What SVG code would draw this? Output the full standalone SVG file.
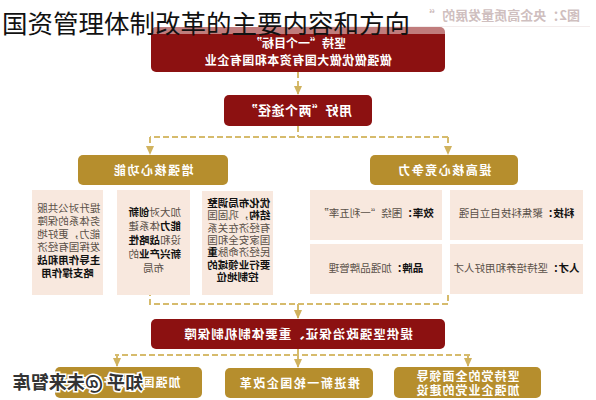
<svg xmlns="http://www.w3.org/2000/svg" width="596" height="400" viewBox="0 0 596 400">
<style>
.red{fill:#8c1111}
.gold{fill:#b68e2d}
.peach{fill:#f8e8de}
.t{font-family:"Noto Sans CJK SC","Noto Sans CJK JP",sans-serif}
.wt{fill:#fff;font-weight:700;text-anchor:middle}
.body{fill:#5a5048;font-size:10.5px;text-anchor:middle}
.b{font-weight:700;fill:#111}
.conn{stroke:#d6bb6c;stroke-width:2;stroke-dasharray:6 3;fill:none}
</style>
<defs>
<marker id="arr" markerUnits="userSpaceOnUse" markerWidth="9" markerHeight="8" refX="8" refY="4" orient="auto">
<path d="M0,0 L9,4 L0,8 z" fill="#d0b25e"/>
</marker>
</defs>
<rect width="596" height="400" fill="#fff"/>
<g id="diagram" transform="matrix(-1 0 0 1 596 0)">
<g id="caption">
<line x1="6" y1="26.5" x2="300" y2="26.5" stroke="#eadcdc" stroke-width="1"/>
<text class="t" x="16" y="20" font-size="13" font-weight="700" fill="#a88a8a">图2：央企高质量发展的“</text>
</g>
<g id="connectors">
<line class="conn" x1="298" y1="72" x2="298" y2="94" marker-end="url(#arr)"/>
<polyline class="conn" points="298,126 298,137"/>
<polyline class="conn" points="148,137 446,137"/>
<line class="conn" x1="148" y1="137" x2="148" y2="154" marker-end="url(#arr)"/>
<line class="conn" x1="446" y1="137" x2="446" y2="154" marker-end="url(#arr)"/>
<polyline class="conn" points="148,295 148,304 446,304 446,295"/>
<line class="conn" x1="298" y1="304" x2="298" y2="318" marker-end="url(#arr)"/>
<polyline class="conn" points="298,349 298,355"/>
<polyline class="conn" points="126,355 481,355"/>
<line class="conn" x1="128" y1="355" x2="128" y2="366" marker-end="url(#arr)"/>
<line class="conn" x1="298" y1="355" x2="298" y2="367" marker-end="url(#arr)"/>
<line class="conn" x1="479" y1="355" x2="479" y2="366" marker-end="url(#arr)"/>
</g>
<g id="goal">
<rect class="red" x="151" y="27" width="294" height="45" rx="5"/>
<text class="t wt" x="298" y="47.5" font-size="12">坚持“一个目标”</text>
<text class="t wt" x="298" y="64.5" font-size="12" letter-spacing="0.5">做强做优做大国有资本和国有企业</text>
</g>
<g id="paths">
<rect class="red" x="224" y="95" width="148" height="31" rx="5"/>
<text class="t wt" x="298" y="115" font-size="13" letter-spacing="0.5">用好“两个途径”</text>
</g>
<g id="compete">
<rect class="gold" x="78" y="155" width="148" height="30" rx="5"/>
<text class="t wt" x="152" y="174.5" font-size="12" letter-spacing="1.5">提高核心竞争力</text>
</g>
<g id="function">
<rect class="gold" x="368" y="155" width="150" height="30" rx="5"/>
<text class="t wt" x="443" y="174.5" font-size="12" letter-spacing="1.5">增强核心功能</text>
</g>
<g id="tech">
<rect class="peach" x="13" y="190" width="133" height="50"/>
<text class="t body" x="79.5" y="217"><tspan class="b">科技：</tspan>聚焦科技自立自强</text>
</g>
<g id="efficiency">
<rect class="peach" x="154" y="190" width="132" height="50"/>
<text class="t body" x="220" y="217"><tspan class="b">效率：</tspan>围绕“一利五率”</text>
</g>
<g id="talent">
<rect class="peach" x="13" y="244" width="133" height="50"/>
<text class="t body" x="79.5" y="272"><tspan class="b">人才：</tspan>坚持培养和用好人才</text>
</g>
<g id="brand">
<rect class="peach" x="154" y="244" width="132" height="50"/>
<text class="t body" x="220" y="272"><tspan class="b">品牌：</tspan>加强品牌管理</text>
</g>
<g id="layout">
<rect class="peach" x="323" y="191" width="71" height="104"/>
<text class="t body">
<tspan x="358.5" y="207" class="b">优化布局调整</tspan>
<tspan x="358.5" y="219.3"><tspan class="b">结构</tspan>，巩固国</tspan>
<tspan x="358.5" y="231.7">有经济在关系</tspan>
<tspan x="358.5" y="244">国家安全和国</tspan>
<tspan x="358.5" y="256.3">民经济命脉<tspan class="b">重</tspan></tspan>
<tspan x="358.5" y="268.7" class="b">要行业领域的</tspan>
<tspan x="358.5" y="281" class="b">控制地位</tspan>
</text>
</g>
<g id="innovation">
<rect class="peach" x="406" y="190" width="73" height="105"/>
<text class="t body">
<tspan x="442.5" y="216">加大对<tspan class="b">创新</tspan></tspan>
<tspan x="442.5" y="230"><tspan class="b">能力</tspan>体系建</tspan>
<tspan x="442.5" y="244">设和<tspan class="b">战略性</tspan></tspan>
<tspan x="442.5" y="258"><tspan class="b">新兴产业</tspan>的</tspan>
<tspan x="442.5" y="272">布局</tspan>
</text>
</g>
<g id="service">
<rect class="peach" x="493" y="190" width="71" height="105"/>
<text class="t body">
<tspan x="528.5" y="212">提升对公共服</tspan>
<tspan x="528.5" y="225">务体系的保障</tspan>
<tspan x="528.5" y="238">能力，更好地</tspan>
<tspan x="528.5" y="251">发挥国有经济</tspan>
<tspan x="528.5" y="264" class="b">主导作用和战</tspan>
<tspan x="528.5" y="277" class="b">略支撑作用</tspan>
</text>
</g>
<g id="guarantee">
<rect class="red" x="151" y="319" width="294" height="30" rx="5"/>
<text class="t wt" x="298" y="339" font-size="12.5" letter-spacing="1">提供坚强政治保证、重要体制机制保障</text>
</g>
<g id="party">
<rect class="gold" x="55" y="367" width="147" height="31" rx="5"/>
<text class="t wt" x="128.5" y="380.5" font-size="12" letter-spacing="1">坚持党的全面领导</text>
<text class="t wt" x="128.5" y="394.5" font-size="12" letter-spacing="1">加强企业党的建设</text>
</g>
<g id="reform">
<rect class="gold" x="223" y="368" width="148" height="30" rx="5"/>
<text class="t wt" x="297" y="387.5" font-size="12" letter-spacing="1.5">推进新一轮国企改革</text>
</g>
<g id="supervision">
<rect class="gold" x="394" y="367" width="147" height="31" rx="5"/>
<text class="t wt" x="467.5" y="386.5" font-size="12" letter-spacing="1">加强国有资产监管</text>
</g>
<g id="watermark">
<text class="t" x="453" y="389" font-size="18" font-weight="700" fill="#333" stroke="#fff" stroke-width="3" paint-order="stroke">知乎 @未来智库</text>
</g>
</g>
<rect x="0" y="0" width="596" height="34" fill="#fff" opacity="0.45"/>
<g id="title">
<text class="t" x="2" y="33" font-size="25.5" fill="#111">国资管理体制改革的主要内容和方向</text>
</g>
</svg>
